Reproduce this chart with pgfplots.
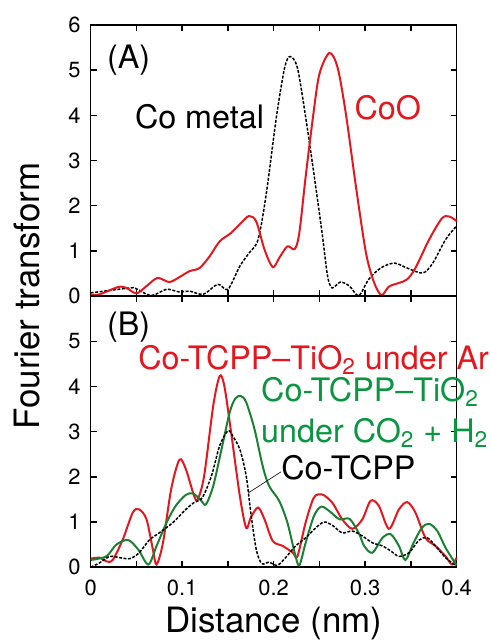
\documentclass[border=0pt]{standalone}
\usepackage{fontspec}
\setmainfont{TeX Gyre Heros}
\usepackage{pgfplots}
\pgfplotsset{compat=1.18}
\usetikzlibrary{calc}

\definecolor{cored}{RGB}{228,22,30}
\definecolor{cogreen}{RGB}{28,128,52}
\definecolor{cotext}{RGB}{10,150,64}
\newcommand\sub[1]{\textsubscript{#1}}

\pgfplotsset{
  ftpanel/.style={
    scale only axis, width=183.5pt, height=136pt,
    xmin=0, xmax=0.4, ymin=0, ymax=6,
    axis line style={line width=0.75pt},
    xtick={0,0.1,0.2,0.3,0.4},
    minor xtick={0.05,0.15,0.25,0.35},
    tick align=inside, tick pos=both,
    major tick length=3pt, minor tick length=3pt,
    tick style={line width=0.75pt, black},
    tick label style={font=\fontsize{11}{13}\selectfont},
    yticklabel style={xshift=-1.5pt},
    xticklabel style={yshift=-3pt},
    /pgf/number format/assume math mode=true,
    clip=false,
  },
}

\begin{document}
\begin{tikzpicture}
\begin{axis}[ftpanel, name=top,
  ytick={0,1,2,3,4,5,6}, xticklabels={},
]
% Co metal
\addplot[black, line width=0.75pt, dash pattern=on 1.5pt off 0.75pt, smooth, tension=0.5] coordinates {
(0,0.07)(0.043,0.18)(0.05,0.16)(0.066,0.01)(0.083,0.15)(0.097,0.09)(0.108,0.11)
(0.123,0.04)(0.139,0.26)(0.15,0.15)(0.163,0.66)(0.173,0.95)(0.183,1.25)(0.192,2.27)
(0.203,3.96)(0.212,5.05)(0.218,5.30)(0.226,5.05)(0.235,3.96)(0.244,2.71)(0.253,1.39)
(0.259,0.44)(0.264,0.18)(0.273,0.31)(0.283,0.22)(0.293,0.01)(0.304,0.37)(0.317,0.62)
(0.332,0.73)(0.346,0.62)(0.363,0.51)(0.374,0.73)(0.388,1.25)(0.4,1.55)};
% CoO
\addplot[cored, line width=1pt, smooth, tension=0.5] coordinates {
(0,0.02)(0.01,0.04)(0.03,0.2)(0.039,0.18)(0.05,0.06)(0.061,0.22)(0.073,0.40)
(0.086,0.31)(0.097,0.42)(0.108,0.55)(0.119,0.62)(0.13,0.88)(0.141,1.21)(0.153,1.39)
(0.164,1.61)(0.173,1.77)(0.181,1.65)(0.19,1.03)(0.199,0.64)(0.206,0.84)(0.215,1.10)
(0.223,1.04)(0.228,1.39)(0.235,2.64)(0.243,3.96)(0.25,4.91)(0.261,5.38)(0.27,5.05)
(0.279,4.03)(0.29,2.42)(0.301,0.95)(0.31,0.29)(0.318,0.02)(0.326,0.21)(0.337,0.29)
(0.346,0.37)(0.355,0.62)(0.37,1.25)(0.384,1.72)(0.392,1.76)(0.4,1.66)};
\node[anchor=base west, font=\fontsize{16.2}{19}\selectfont, inner sep=0pt] at (axis cs:0.0174,5.04) {(A)};
\node[anchor=base west, font=\fontsize{16.2}{19}\selectfont, inner sep=0pt] at (axis cs:0.048,3.70) {Co metal};
\node[anchor=base west, font=\fontsize{16.2}{19}\selectfont, inner sep=0pt, text=cored] at (axis cs:0.288,3.90) {CoO};
\end{axis}

\begin{axis}[ftpanel, at={(top.south west)}, anchor=north west,
  ytick={0,1,2,3,4,5},
  xlabel={Distance (nm)},
  xlabel style={font=\fontsize{17.5}{20}\selectfont, at={(axis description cs:0.5,0)}, anchor=base, yshift=-33pt},
]
% Co-TCPP-TiO2 under Ar
\addplot[cored, line width=1pt, smooth, tension=0.5] coordinates {
(0,0.19)(0.01,0.21)(0.017,0.13)(0.024,0.16)(0.035,0.61)(0.046,1.21)(0.053,1.28)
(0.061,1.06)(0.068,0.39)(0.072,0.06)(0.079,0.54)(0.088,1.73)(0.097,2.38)(0.104,2.17)
(0.113,1.58)(0.117,1.50)(0.124,2.02)(0.134,3.58)(0.141,4.23)(0.146,4.02)(0.153,3.06)
(0.163,1.58)(0.17,0.87)(0.175,1.10)(0.183,1.32)(0.19,1.06)(0.199,0.58)(0.21,0.47)
(0.221,0.32)(0.226,0.24)(0.235,0.99)(0.244,1.54)(0.253,1.61)(0.264,1.43)(0.275,1.06)
(0.286,0.85)(0.297,1.06)(0.306,1.47)(0.315,1.36)(0.326,0.85)(0.337,1.28)(0.346,1.44)
(0.355,1.21)(0.366,0.65)(0.377,0.47)(0.388,0.24)(0.395,0.06)(0.4,0.21)};
% Co-TCPP-TiO2 under CO2 + H2
\addplot[cogreen, line width=1pt, smooth, tension=0.5] coordinates {
(0,0.16)(0.017,0.24)(0.028,0.50)(0.041,0.60)(0.052,0.39)(0.063,0.06)(0.072,0.47)
(0.083,0.99)(0.093,1.36)(0.104,1.60)(0.112,1.63)(0.121,1.47)(0.126,1.39)(0.134,1.80)
(0.143,2.61)(0.152,3.43)(0.158,3.73)(0.164,3.79)(0.17,3.65)(0.179,3.06)(0.188,2.24)
(0.195,1.80)(0.206,1.47)(0.215,0.99)(0.223,0.32)(0.228,0.04)(0.235,0.54)(0.244,1.13)
(0.252,1.34)(0.261,1.24)(0.272,1.06)(0.283,1.07)(0.293,0.76)(0.299,0.47)(0.308,0.32)
(0.319,0.65)(0.328,0.73)(0.337,0.47)(0.344,0.16)(0.353,0.54)(0.362,0.87)(0.37,0.96)
(0.379,0.80)(0.388,0.43)(0.4,0.04)};
% Co-TCPP
\addplot[black, line width=0.75pt, dash pattern=on 1.5pt off 0.75pt, smooth, tension=0.5] coordinates {
(0,0.0)(0.01,0.10)(0.021,0.24)(0.032,0.21)(0.043,0.19)(0.053,0.32)(0.064,0.60)
(0.075,0.76)(0.09,0.99)(0.104,1.28)(0.113,1.43)(0.122,1.54)(0.132,2.02)(0.141,2.69)
(0.15,3.02)(0.155,2.91)(0.163,2.61)(0.17,2.02)(0.175,1.21)(0.181,0.39)(0.187,0.08)
(0.195,0.11)(0.204,0.04)(0.213,0.21)(0.224,0.47)(0.235,0.65)(0.246,0.87)(0.255,1.00)
(0.264,0.93)(0.275,0.76)(0.286,0.80)(0.297,0.69)(0.308,0.54)(0.319,0.47)(0.328,0.36)
(0.337,0.24)(0.348,0.32)(0.359,0.60)(0.368,0.65)(0.377,0.47)(0.388,0.21)(0.4,0.02)};
\draw[black, line width=0.3pt] (axis cs:0.172,1.64) -- (axis cs:0.208,2.11);
\node[anchor=base west, font=\fontsize{16.2}{19}\selectfont, inner sep=0pt] at (axis cs:0.0174,5.12) {(B)};
\node[anchor=base west, font=\fontsize{16.2}{19}\selectfont, inner sep=0pt, text=cored] at (axis cs:0.0516,4.38) {Co-TCPP–TiO\sub{2} under Ar};
\node[anchor=base west, font=\fontsize{16.2}{19}\selectfont, inner sep=0pt, text=cotext] at (axis cs:0.186,3.66) {Co-TCPP–TiO\sub{2}};
\node[anchor=base west, font=\fontsize{16.2}{19}\selectfont, inner sep=0pt, text=cotext] at (axis cs:0.186,2.76) {under CO\sub{2} + H\sub{2}};
\node[anchor=base west, font=\fontsize{16.2}{19}\selectfont, inner sep=0pt] at (axis cs:0.208,1.95) {Co-TCPP};
\end{axis}

\node[rotate=90, anchor=base, inner sep=0pt, font=\fontsize{17.5}{20}\selectfont] at ($(top.south west)+(-25.5pt,0)$) {Fourier transform};
\pgfresetboundingbox
\path[use as bounding box] ($(top.north west)+(-45.5pt,12.5pt)$) rectangle ($(top.north west)+(200.5pt,-309pt)$);
\end{tikzpicture}
\end{document}
